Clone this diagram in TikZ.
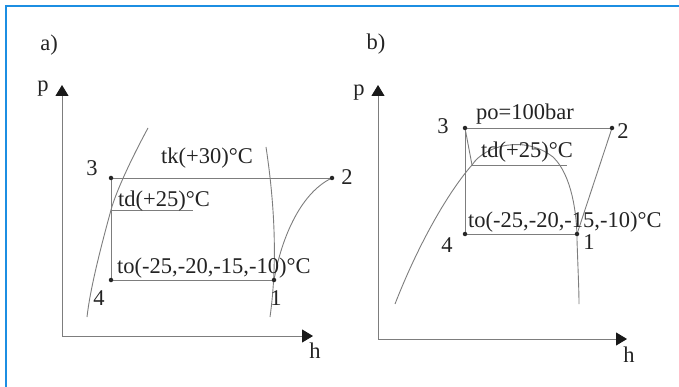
\documentclass[tikz,border=0pt]{standalone}
\usepackage{fontspec}
\setmainfont{Liberation Serif}
\usetikzlibrary{arrows.meta}
\definecolor{frameblue}{RGB}{28,142,226}
\definecolor{linegray}{RGB}{125,125,125}
\definecolor{txt}{RGB}{35,35,35}
\tikzset{
  lbl/.style={inner sep=0pt, text=txt, font=\fontsize{22.5}{26}\selectfont},
  tlbl/.style={lbl, anchor=base west},
  thin line/.style={draw=linegray, line width=0.9pt},
  axis/.style={draw=linegray, line width=0.9pt, -{Triangle[length=11pt,width=13pt,color=black!90]}},
  dot/.style={circle, fill=black!85, inner sep=0pt, minimum size=4.5pt},
}
\begin{document}
\begin{tikzpicture}[x=1pt,y=-1pt]
\useasboundingbox (0,0) rectangle (679,387);
% frame
\draw[frameblue, line width=2.2pt] (6,387) -- (6,6) -- (679,6);

% ---------- panel a ----------
\node[lbl] (la) at (49,45) {a)};
\coordinate (Oa) at (62,336);
\coordinate (Pa) at (62,85);
\coordinate (Ha) at (313,336);
\draw[axis] (Oa) -- (Pa);
\draw[axis] (Oa) -- (Ha);
\node[lbl] (pa) at (43,89) {p};
\node[lbl] (ha) at (315,351) {h};

\coordinate (a3) at (111,178);
\coordinate (a2) at (332,178);
\coordinate (a4) at (111,280);
\coordinate (a1) at (274,280);
\coordinate (atdL) at (111,210);
\coordinate (atdR) at (193,210);

% saturation lines
\draw[thin line] (148,128) .. controls (128,165) and (115,195) .. (111,210)
                 .. controls (100,250) and (90,290) .. (87,317);
\draw[thin line] (266,147) .. controls (274,200) and (278,260) .. (270,317);

% cycle
\draw[thin line] (a3) -- (a2);
\draw[thin line] (a3) -- (a4);
\draw[thin line] (a4) -- (a1);
\draw[thin line] (atdL) -- (atdR);
\draw[thin line] (a1) .. controls (282,235) and (302,192) .. (a2);

\node[dot] at (a3) {};
\node[dot] at (a2) {};
\node[dot] at (a4) {};
\node[dot] at (a1) {};

\node[lbl] (n3a) at (92,168) {3};
\node[lbl] (n2a) at (347,177) {2};
\node[lbl] (n4a) at (99,298) {4};
\node[lbl] (n1a) at (276,298) {1};

\node[tlbl] (tka) at (161,164) {tk(+30)°C};
\node[tlbl] (tda) at (118,207) {td(+25)°C};
\node[tlbl] (toa) at (117,273) {to(-25,-20,-15,-10)°C};

% ---------- panel b ----------
\node[lbl] (lb) at (376,44) {b)};
\coordinate (Ob) at (378,339);
\coordinate (Pb) at (378,85);
\coordinate (Hb) at (627,339);
\draw[axis] (Ob) -- (Pb);
\draw[axis] (Ob) -- (Hb);
\node[lbl] (pb) at (359,93) {p};
\node[lbl] (hb) at (629,355) {h};

\coordinate (b3) at (465,128);
\coordinate (b2) at (612,128);
\coordinate (b4) at (465,234);
\coordinate (b1) at (577,234);
\coordinate (btdL) at (472,165);
\coordinate (btdR) at (567,165);

% dome
\draw[thin line] (395,304) .. controls (420,240) and (450,190) .. (btdL)
  .. controls (485,145) and (525,135) .. (553,157)
  .. controls (572,175) and (577,215) .. (577,240)
  .. controls (578,270) and (579,290) .. (579,304);

% cycle
\draw[thin line] (b3) -- (b2);
\draw[thin line] (b3) -- (b4);
\draw[thin line] (b3) -- (btdL);
\draw[thin line] (btdL) -- (btdR);
\draw[thin line] (b4) -- (b1);
\draw[thin line] (b1) -- (b2);

\node[dot] at (b3) {};
\node[dot] at (b2) {};
\node[dot] at (b4) {};
\node[dot] at (b1) {};

\node[lbl] (n3b) at (443,126) {3};
\node[lbl] (n2b) at (623,131) {2};
\node[lbl] (n4b) at (447,245) {4};
\node[lbl] (n1b) at (589,242) {1};

\node[tlbl] (pob) at (476,120) {po=100bar};
\node[tlbl] (tdb) at (481,158) {td(+25)°C};
\node[tlbl] (tob) at (468,228) {to(-25,-20,-15,-10)°C};
\end{tikzpicture}
\end{document}
